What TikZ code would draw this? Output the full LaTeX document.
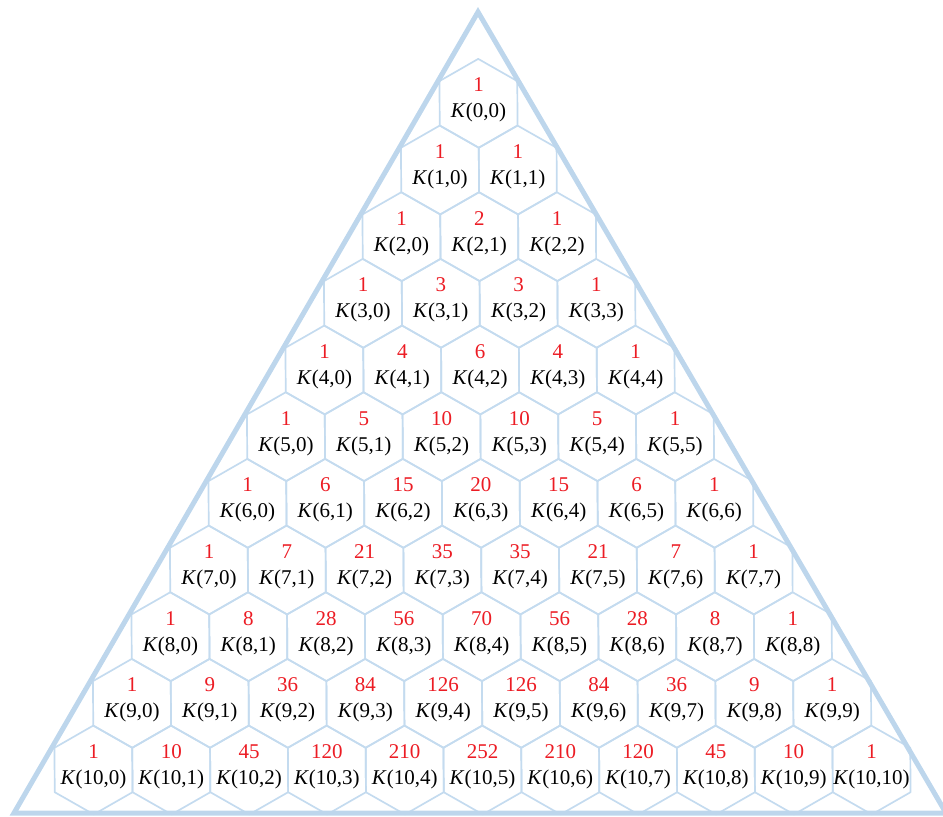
\documentclass[tikz,border=0pt]{standalone}
\usepackage{fontspec}
\setmainfont{Liberation Serif}
\definecolor{tri}{RGB}{189,214,236}
\definecolor{hexc}{RGB}{196,219,239}
\definecolor{numred}{RGB}{236,28,36}
\begin{document}
\begin{tikzpicture}[x=1pt,y=-1pt,
  hexline/.style={draw=hexc,line width=1.7pt,line join=round},
  trisides/.style={draw=tri,line width=5pt,line join=miter},
  numtxt/.style={text=numred,font=\fontsize{21}{24}\selectfont,anchor=base,inner sep=0pt},
  ktxt/.style={text=black,font=\fontsize{21}{24}\selectfont,anchor=base,inner sep=0pt}]
\useasboundingbox (0,0) rectangle (943,817);
\foreach \k/\vals in {0/{1},1/{1,1},2/{1,2,1},3/{1,3,3,1},4/{1,4,6,4,1},
  5/{1,5,10,10,5,1},6/{1,6,15,20,15,6,1},7/{1,7,21,35,35,21,7,1},
  8/{1,8,28,56,70,56,28,8,1},9/{1,9,36,84,126,126,84,36,9,1},
  10/{1,10,45,120,210,252,210,120,45,10,1}}{
  \foreach \v [count=\j from 0] in \vals {
    \pgfmathsetmacro\cy{103.3+66.67*\k}
    \pgfmathsetmacro\cx{478.5+(\j-\k/2)*77.8+0.4*\k}
    \draw[hexline] (\cx-0.27,\cy-44.4) -- (\cx+38.9-0.13,\cy-22.2) -- (\cx+38.9+0.13,\cy+22.2)
      -- (\cx+0.27,\cy+44.4) -- (\cx-38.9+0.13,\cy+22.2) -- (\cx-38.9-0.13,\cy-22.2) -- cycle;
    \node[numtxt] (n-\k-\j) at (\cx,\cy-11.5) {\v};
    \node[ktxt] (k-\k-\j) at (\cx,\cy+14.5) {\textit{K}(\k,\j)};
  }
}
\draw[trisides] (478,12) -- (946,813) -- (14,813) -- cycle;
\end{tikzpicture}
\end{document}
